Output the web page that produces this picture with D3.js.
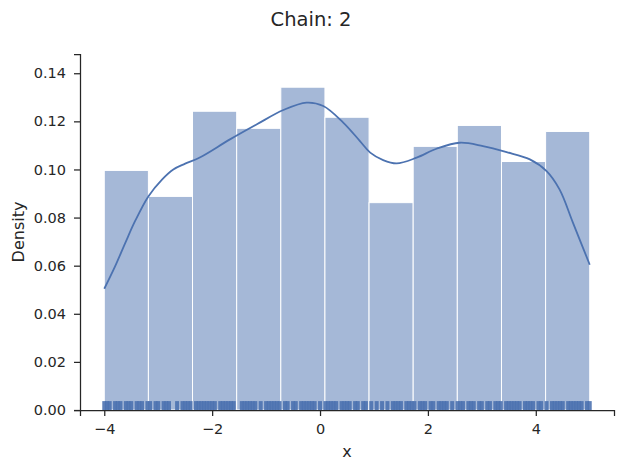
<!DOCTYPE html>
<html>
<head>
<meta charset="utf-8">
<script src="https://cdn.jsdelivr.net/npm/d3@7"></script>
<style>
  body { margin: 0; background: #fff; }
  text { font-family: "DejaVu Sans", sans-serif; fill: #262626; }
</style>
</head>
<body>
<div id="chart"></div>
<script>
// histogram bins (edges) and density per bin
var binEdges = [-4, -3.182, -2.364, -1.545, -0.727, 0.091, 0.909, 1.727, 2.545, 3.364, 4.182, 5];
var density = [0.0996, 0.0888, 0.1242, 0.1171, 0.1342, 0.1217, 0.0862, 0.1096, 0.1183, 0.1033, 0.1158];

// kde curve
var kdeX = [-4.00, -3.80, -3.61, -3.43, -3.18, -2.93, -2.72, -2.50, -2.22, -1.67, -1.17, -0.68, -0.25, 0.06,
  0.43, 0.74, 0.93, 1.17, 1.42, 1.79, 2.16, 2.59, 3.02, 3.46, 3.89, 4.20, 4.44, 4.69, 5.00];
var kdeY = [0.0504, 0.0597, 0.0695, 0.0785, 0.0889, 0.0958, 0.1000, 0.1024, 0.1051, 0.1125, 0.1188, 0.1247, 0.1278, 0.1264,
  0.1195, 0.1118, 0.1070, 0.1039, 0.1025, 0.1049, 0.1086, 0.1111, 0.1097, 0.1072, 0.1042, 0.0993, 0.0917, 0.0778, 0.0604];

// rug positions
var rug = [-4.00, -3.95, -3.90, -3.80, -3.75, -3.70, -3.60, -3.55, -3.50, -3.40, -3.35, -3.30, -3.20, -3.15,
  -3.05, -3.00, -2.90, -2.85, -2.80, -2.65, -2.55, -2.50, -2.45, -2.40, -2.30, -2.25, -2.20, -2.15, -2.10,
  -2.05, -2.00, -1.95, -1.85, -1.80, -1.75, -1.70, -1.65, -1.60, -1.45, -1.40, -1.35, -1.30, -1.25, -1.20,
  -1.10, -1.00, -0.95, -0.90, -0.85, -0.80, -0.75, -0.65, -0.60, -0.50, -0.45, -0.35, -0.30, -0.25, -0.20,
  -0.15, -0.10, 0.00, 0.10, 0.15, 0.20, 0.25, 0.30, 0.40, 0.45, 0.50, 0.55, 0.65, 0.70, 0.80, 0.85, 0.95,
  1.05, 1.15, 1.25, 1.35, 1.40, 1.45, 1.50, 1.60, 1.65, 1.70, 1.75, 1.85, 1.90, 1.95, 2.05, 2.10, 2.20,
  2.25, 2.30, 2.35, 2.45, 2.55, 2.60, 2.65, 2.75, 2.80, 2.85, 2.95, 3.00, 3.10, 3.15, 3.25, 3.30, 3.35,
  3.45, 3.50, 3.55, 3.60, 3.65, 3.70, 3.80, 3.85, 3.90, 3.95, 4.05, 4.10, 4.20, 4.30, 4.35, 4.40, 4.45,
  4.50, 4.60, 4.65, 4.70, 4.75, 4.80, 4.85, 4.95, 5.00];

var xTicks = [-4, -2, 0, 2, 4];
var yTicks = [0, 0.02, 0.04, 0.06, 0.08, 0.10, 0.12, 0.14];

var W = 623, H = 472;
var margin = { left: 80, right: 614, top: 54, bottom: 410 };
var blue = "#4c72b0";

var svg = d3.select("#chart").append("svg")
  .attr("width", W)
  .attr("height", H);

var x = d3.scaleLinear().domain([-4.45, 5.45]).range([margin.left, margin.right]);
var y = d3.scaleLinear().domain([0, 0.148]).range([margin.bottom, margin.top]);

// bars
var bins = density.map(function (d, i) { return { x0: binEdges[i], x1: binEdges[i + 1], v: d }; });
svg.append("g")
  .selectAll("rect")
  .data(bins)
  .enter().append("rect")
  .attr("x", function (d) { return x(d.x0); })
  .attr("y", function (d) { return y(d.v); })
  .attr("width", function (d) { return x(d.x1) - x(d.x0); })
  .attr("height", function (d) { return y(0) - y(d.v); })
  .attr("fill", blue)
  .attr("fill-opacity", 0.5)
  .attr("stroke", "#fff")
  .attr("stroke-width", 1);

// kde line
var line = d3.line()
  .x(function (d) { return x(d[0]); })
  .y(function (d) { return y(d[1]); })
  .curve(d3.curveCatmullRom.alpha(0.5));
svg.append("path")
  .datum(kdeX.map(function (d, i) { return [d, kdeY[i]]; }))
  .attr("d", line)
  .attr("fill", "none")
  .attr("stroke", blue)
  .attr("stroke-width", 1.8);

// rug
var rugH = (margin.bottom - margin.top) * 0.025;
svg.append("g")
  .selectAll("line")
  .data(rug)
  .enter().append("line")
  .attr("x1", function (d) { return x(d); })
  .attr("x2", function (d) { return x(d); })
  .attr("y1", margin.bottom)
  .attr("y2", margin.bottom - rugH)
  .attr("stroke", blue)
  .attr("stroke-width", 4)
  .attr("stroke-opacity", 0.9);

// axes
var fmtX = function (d) { return d < 0 ? "\u2212" + Math.abs(d) : String(d); };
var gx = svg.append("g")
  .attr("transform", "translate(0," + margin.bottom + ")")
  .call(d3.axisBottom(x).tickValues(xTicks).tickFormat(fmtX).tickSizeOuter(0).tickSize(6).tickPadding(8));
var gy = svg.append("g")
  .attr("transform", "translate(" + margin.left + ",0)")
  .call(d3.axisLeft(y).tickValues(yTicks).tickFormat(d3.format(".2f")).tickSizeOuter(0).tickSize(6).tickPadding(8));

[gx, gy].forEach(function (g) {
  g.select(".domain").attr("stroke", "#262626").attr("stroke-width", 1.25);
  g.selectAll(".tick line").attr("stroke", "#262626").attr("stroke-width", 1.25);
  g.selectAll(".tick text").style("font-size", "14.5px").attr("fill", "#262626");
});

// labels
svg.append("text")
  .attr("x", (margin.left + margin.right) / 2)
  .attr("y", 457)
  .attr("text-anchor", "middle")
  .style("font-size", "16px")
  .text("x");

svg.append("text")
  .attr("transform", "translate(24," + (margin.top + margin.bottom) / 2 + ") rotate(-90)")
  .attr("text-anchor", "middle")
  .style("font-size", "16px")
  .text("Density");

svg.append("text")
  .attr("x", 311)
  .attr("y", 25.5)
  .attr("text-anchor", "middle")
  .style("font-size", "19.5px")
  .text("Chain: 2");
</script>
</body>
</html>
